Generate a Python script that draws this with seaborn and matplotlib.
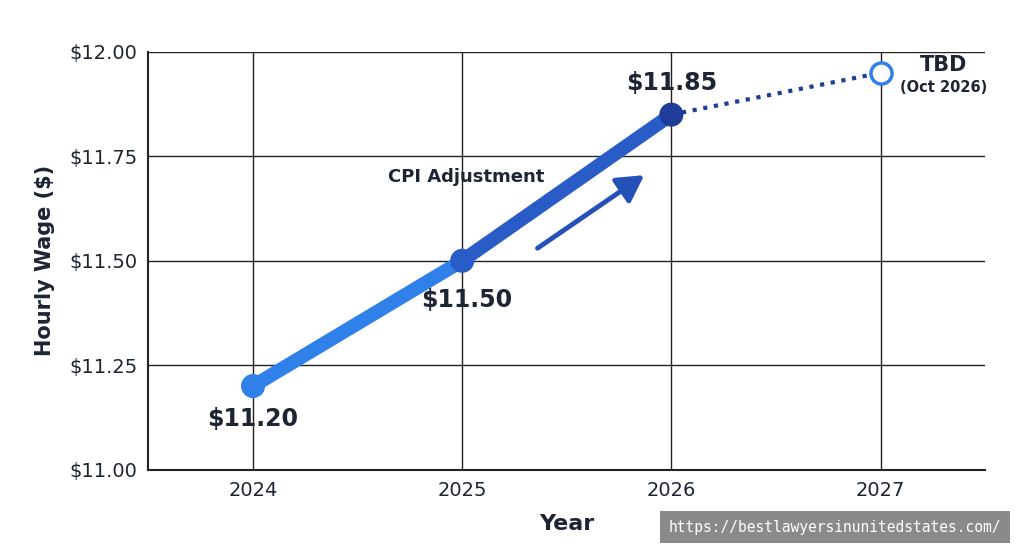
import numpy as np
import pandas as pd
import matplotlib.pyplot as plt
import seaborn as sns

years = [2024, 2025, 2026]
wages = [11.20, 11.50, 11.85]
wage_labels = ["$11.20", "$11.50", "$11.85"]
tbd_year = 2027
tbd_wage = 11.95
yticks = [11.00, 11.25, 11.50, 11.75, 12.00]

sns.set_style("white")
plt.rcParams['font.family'] = ['DejaVu Sans']

fig = plt.figure(figsize=(10.24, 5.59), dpi=100)
ax = fig.add_axes([0.145, 0.16, 0.817, 0.747])

df = pd.DataFrame({"year": years, "wage": wages})

# gradient solid line
colors = ["#2f80e8", "#2a5cc8", "#1f3c98"]
for i in range(len(years) - 1):
    ax.plot(years[i:i + 2], wages[i:i + 2], color=colors[i], lw=10,
            solid_capstyle="round", zorder=3)
sns.scatterplot(data=df, x="year", y="wage", hue="year",
                palette=colors, s=300, legend=False, ax=ax, zorder=4,
                edgecolor="none")

# dotted projection
ax.plot([years[-1], tbd_year], [wages[-1], tbd_wage], color="#1f3c98",
        lw=3, ls=(0, (1, 1.6)), zorder=2)
ax.scatter([tbd_year], [tbd_wage], s=230, facecolor="white",
           edgecolor="#2f80e8", linewidth=2.5, zorder=5)

offsets = [(0, -0.08), (0.02, -0.095), (0, 0.075)]
for x, y, lab, (dx, dy) in zip(years, wages, wage_labels, offsets):
    ax.text(x + dx, y + dy, lab, ha="center", va="center", fontsize=17,
            fontweight="bold", color="#1d2433")
ax.text(tbd_year + 0.3, 11.97, "TBD", ha="center", va="center", fontsize=15,
        fontweight="bold", color="#1d2433")
ax.text(tbd_year + 0.3, 11.915, "(Oct 2026)", ha="center", va="center",
        fontsize=10.5, fontweight="bold", color="#1d2433")

ax.text(2025.02, 11.70, "CPI Adjustment", ha="center", va="center",
        fontsize=13, fontweight="bold", color="#1d2433")
ax.annotate("", xy=(2025.87, 11.705), xytext=(2025.36, 11.53),
            arrowprops=dict(arrowstyle="-|>,head_length=1.6,head_width=0.9",
                            color="#2451b8", lw=3.5, shrinkA=0, shrinkB=0))

ax.set_xlim(2023.5, 2027.5)
ax.set_ylim(11.0, 12.0)
ax.set_xticks([2024, 2025, 2026, 2027])
ax.set_yticks(yticks)
ax.set_yticklabels([f"${v:.2f}" for v in yticks])
ax.tick_params(labelsize=14, colors="#1d2433", length=0, pad=8)
ax.grid(True, color="#222222", lw=1)
for s in ["top", "right"]:
    ax.spines[s].set_visible(False)
for s in ["left", "bottom"]:
    ax.spines[s].set_color("#222222")
    ax.spines[s].set_linewidth(1.5)
ax.set_xlabel("Year", fontsize=16, fontweight="bold", color="#1d2433", labelpad=10)
ax.set_ylabel("Hourly Wage ($)", fontsize=15, fontweight="bold", color="#1d2433", labelpad=10)

fig.text(0.815, 0.057, "https://bestlawyersinunitedstates.com/", ha="center",
         va="center", fontsize=10.5, family="DejaVu Sans Mono", color="white",
         bbox=dict(boxstyle="square,pad=0.6", facecolor="#8a8a8a", edgecolor="none"))

fig.savefig("out.png", dpi=100)
